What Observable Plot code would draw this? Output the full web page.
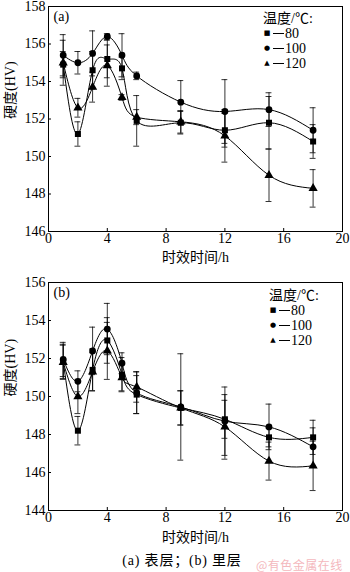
<!DOCTYPE html>
<html><head><meta charset="utf-8">
<script src="https://cdn.jsdelivr.net/npm/d3@7"></script>
<script src="https://cdn.jsdelivr.net/npm/@observablehq/plot@0.6"></script>
<style>
body{margin:0;background:#fff;}
#wrap{position:relative;width:350px;height:572px;overflow:hidden;background:#fff;font-family:"Liberation Serif","Times New Roman","Noto Sans CJK SC",serif;color:#000;}
#wrap svg{display:block;}
.leg{position:absolute;font-size:14px;line-height:15px;white-space:nowrap;}
.leg .row{display:flex;align-items:center;height:15px;}
.leg .mk{display:inline-block;width:8px;text-align:center;font-family:"DejaVu Sans",sans-serif;font-size:7px;}
.leg .dash{display:inline-block;width:11px;height:0;border-top:1px solid #000;margin:0 1px 0 2px;}
.cap{position:absolute;left:0;width:364px;text-align:center;top:549px;font-size:14px;letter-spacing:0.8px;}
.wm{position:absolute;left:256px;top:556px;font-size:12px;color:#f4b8bd;font-family:"Noto Sans CJK SC",sans-serif;letter-spacing:0.5px;}
</style>
</head><body>
<div id="wrap"></div>
<script>
const hours = [1, 2, 3, 4, 5, 6, 9, 12, 15, 18];
const temps = ["80", "100", "120"];
const symbols = ["square", "circle", "triangle"];
const xTicks = [0, 4, 8, 12, 16, 20];

// (a) surface layer
const topHV80  = [154.9, 151.2, 154.6, 155.2, 154.7, 151.9, 151.8, 151.4, 151.8, 150.8];
const topHV100 = [155.4, 155.0, 155.5, 156.4, 155.4, 154.3, 152.9, 152.4, 152.5, 151.4];
const topHV120 = [155.0, 152.6, 153.7, 154.85, 153.15, 152.1, 151.85, 151.1, 149.0, 148.3];
const topErr80  = [0.7, 0.65, 1.0, 1.0, 0.6, 1.35, 0.6, 0.9, 1.4, 0.9];
const topErr100 = [1.1, 0.6, 1.2, 0.15, 1.15, 0.2, 1.15, 1.7, 0.9, 1.2];
const topErr120 = [1.2, 0.5, 0.8, 1.1, 0.15, 0.4, 0.6, 1.4, 1.4, 1.0];
const topYTicks = [146, 148, 150, 152, 154, 156, 158];

// (b) inner layer
const botHV80  = [151.85, 148.2, 151.4, 152.95, 151.15, 150.1, 149.4, 148.8, 147.85, 147.85];
const botHV100 = [151.95, 150.8, 152.4, 153.55, 151.75, 150.2, 149.45, 148.7, 148.4, 147.35];
const botHV120 = [151.8, 150.0, 151.3, 152.4, 151.0, 150.5, 149.4, 148.4, 146.6, 146.35];
const botErr80  = [0.9, 0.75, 1.1, 1.2, 0.9, 1.0, 0.9, 1.0, 0.5, 0.9];
const botErr100 = [0.9, 0.55, 1.25, 1.35, 0.55, 1.1, 2.8, 1.8, 1.2, 1.0];
const botErr120 = [0.9, 0.9, 1.0, 1.5, 0.7, 0.8, 0.9, 1.7, 1.0, 1.3];
const botYTicks = [144, 146, 148, 150, 152, 154, 156];

const legendTitle = "温度/℃:";
const xTitle = "时效时间/h";
const yTitle = "硬度(HV)";
const caption = "(a) 表层；(b) 里层";
const watermark = "@有色金属在线";

const FONT = '"Liberation Serif","Times New Roman","Noto Sans CJK SC",serif';

function rowsOf(vals, errs) {
  const rows = [];
  temps.forEach((t, i) => hours.forEach((h, j) => rows.push({t, h, v: vals[i][j], e: errs[i][j]})));
  return rows;
}

function panel({vals, errs, yTicks, tag, height, marginTop, marginBottom, titleDy}) {
  const rows = rowsOf(vals, errs);
  const capW = 0.2;
  return Plot.plot({
    width: 350, height, marginLeft: 48, marginRight: 8, marginTop, marginBottom,
    style: {fontFamily: FONT, fontSize: "14px", color: "#000", background: "#fff", overflow: "visible"},
    x: {domain: [0, 20], label: null},
    y: {domain: [yTicks[0], yTicks[yTicks.length - 1]], label: null},
    symbol: {domain: temps, range: symbols},
    marks: [
      Plot.axisX({ticks: xTicks, tickSize: -3, tickPadding: 5, label: null, fontSize: 14}),
      Plot.axisY({ticks: yTicks, tickSize: -3, tickPadding: 6, label: null, fontSize: 14}),
      Plot.ruleX(rows, {x: "h", y1: d => d.v - d.e, y2: d => d.v + d.e, stroke: "#000", strokeWidth: 0.8}),
      Plot.ruleY(rows, {y: d => d.v + d.e, x1: d => d.h - capW, x2: d => d.h + capW, stroke: "#000", strokeWidth: 0.8}),
      Plot.ruleY(rows, {y: d => d.v - d.e, x1: d => d.h - capW, x2: d => d.h + capW, stroke: "#000", strokeWidth: 0.8}),
      Plot.line(rows, {x: "h", y: "v", z: "t", curve: "natural", stroke: "#000", strokeWidth: 1}),
      Plot.dot(rows, {x: "h", y: "v", symbol: "t", fill: "#000", stroke: "none", r: 3.4}),
      Plot.frame({stroke: "#000", strokeWidth: 1}),
      Plot.text([tag], {frameAnchor: "top-left", dx: 5, dy: 10, textAnchor: "start", lineAnchor: "middle", fontSize: 14}),
      Plot.text([xTitle], {frameAnchor: "bottom", dy: titleDy, lineAnchor: "middle", fontSize: 14}),
      Plot.text([yTitle], {frameAnchor: "left", dx: -38, rotate: -90, lineAnchor: "middle", fontSize: 14})
    ]
  });
}

const wrap = document.getElementById("wrap");
wrap.appendChild(panel({
  vals: [topHV80, topHV100, topHV120], errs: [topErr80, topErr100, topErr120],
  yTicks: topYTicks, tag: "(a)", height: 278, marginTop: 6, marginBottom: 47, titleDy: 26
}));
wrap.appendChild(panel({
  vals: [botHV80, botHV100, botHV120], errs: [botErr80, botErr100, botErr120],
  yTicks: botYTicks, tag: "(b)", height: 294, marginTop: 4, marginBottom: 62, titleDy: 27
}));

const marks = ["■", "●", "▲"];
function legend(left, top) {
  const d = document.createElement("div");
  d.className = "leg";
  d.style.left = left + "px";
  d.style.top = top + "px";
  let html = `<div class="row">${legendTitle}</div>`;
  temps.forEach((t, i) => {
    html += `<div class="row"><span class="mk">${marks[i]}</span><span class="dash"></span>${t}</div>`;
  });
  d.innerHTML = html;
  wrap.appendChild(d);
}
legend(263, 11);
legend(269, 288);

const cap = document.createElement("div");
cap.className = "cap"; cap.textContent = caption; wrap.appendChild(cap);
const wm = document.createElement("div");
wm.className = "wm"; wm.textContent = watermark; wrap.appendChild(wm);
</script>
</body></html>
